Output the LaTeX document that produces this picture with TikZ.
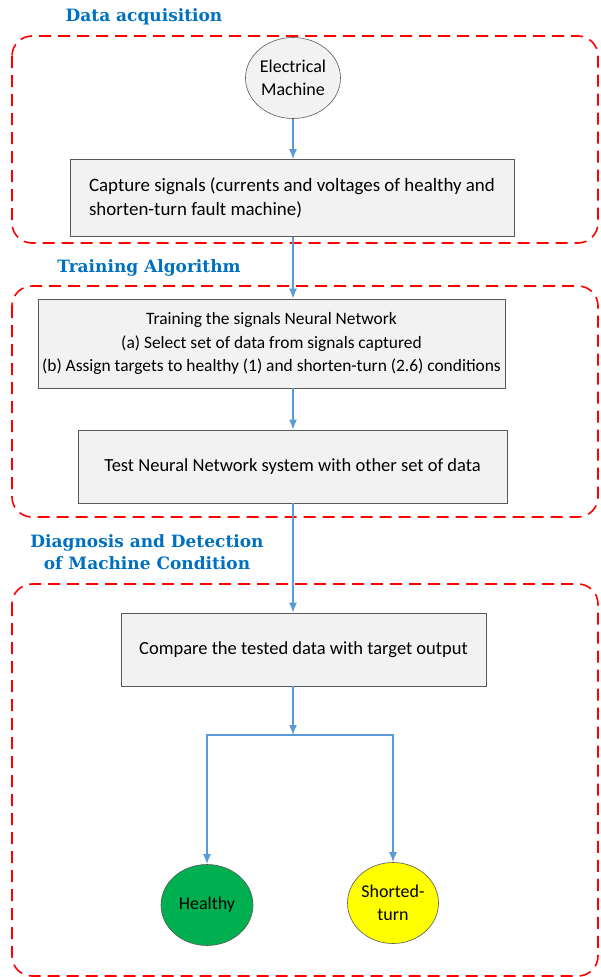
\documentclass[tikz,border=0pt]{standalone}
\usepackage{fontspec}
\setmainfont{Carlito}
\newfontfamily\headfont{DejaVu Serif}
\usetikzlibrary{arrows.meta,shapes.geometric}
\definecolor{boxfill}{HTML}{F2F2F2}
\definecolor{boxline}{HTML}{595959}
\definecolor{flowblue}{HTML}{5B9BD5}
\definecolor{headblue}{HTML}{0070C0}
\definecolor{okgreen}{HTML}{00B050}
\definecolor{faultyellow}{HTML}{FFFF00}

\tikzset{
  zone/.style={draw=red,line width=1.6pt,dash pattern=on 12pt off 7pt,rounded corners=20pt},
  head/.style={font=\headfont\bfseries\fontsize{17}{22}\selectfont,text=headblue,align=center},
  stepbox/.style={draw=boxline,fill=boxfill,line width=0.7pt,font=\fontsize{18.5}{23.5}\selectfont,inner sep=0pt},
  blob/.style={ellipse,draw=boxline,line width=0.6pt,font=\fontsize{18}{23.5}\selectfont,align=center,inner sep=0pt},
  flow/.style={->,draw=flowblue,line width=1.5pt}
}

\begin{document}
\begin{tikzpicture}[x=1pt,y=-1pt,>={Latex[length=10pt,width=8pt]}]
    \useasboundingbox (0,0) rectangle (600,977);

    % dashed groups
    \draw[zone] (12,36) rectangle (598,243);
    \draw[zone] (12,286) rectangle (598,517);
    \draw[zone] (12,584) rectangle (598,976);

    % group titles
    \node[head] (t1) at (144,17) {Data acquisition};
    \node[head] (t2) at (149,268) {Training Algorithm};
    \node[head] (t3) at (147,552) {Diagnosis and Detection\\of Machine Condition};

    % steps
    \node[blob,fill=boxfill,minimum width=95pt,minimum height=81pt] (em) at (293,78) {Electrical\\Machine};
    \node[stepbox,minimum width=444pt,minimum height=77pt,align=left,font=\fontsize{18.9}{23.5}\selectfont] (cap) at (292,198)
      {Capture signals (currents and voltages of healthy and\\shorten-turn fault machine)};
    \node[stepbox,minimum width=467pt,minimum height=89pt,align=center,font=\fontsize{17.4}{23.5}\selectfont] (train) at (271.5,343.5)
      {Training the signals Neural Network\\(a) Select set of data from signals captured\\(b) Assign targets to healthy (1) and shorten-turn (2.6) conditions};
    \node[stepbox,minimum width=429pt,minimum height=73pt] (test) at (292.5,466.5)
      {Test Neural Network system with other set of data};
    \node[stepbox,minimum width=365pt,minimum height=73pt] (cmp) at (303.5,649.5)
      {Compare the tested data with target output};
    \node[blob,fill=okgreen,minimum width=92pt,minimum height=81pt] (ok) at (207,905) {Healthy};
    \node[blob,fill=faultyellow,minimum width=91pt,minimum height=81pt] (fault) at (393,903) {Shorted-\\turn};

    \coordinate (split) at (293,735);

    % connectors
    \draw[flow] (em) -- (cap.north -| em.south);
    \draw[flow] (cap.south -| em.south) -- (train.north -| em.south);
    \draw[flow] (train.south -| em.south) -- (test.north -| em.south);
    \draw[flow] (test.south -| em.south) -- (cmp.north -| em.south);
    \draw[flow] (cmp.south -| em.south) -- (split);
    \draw[flow] (split) -| (ok.north);
    \draw[flow] (split) -| (fault.north);
\end{tikzpicture}
\end{document}
